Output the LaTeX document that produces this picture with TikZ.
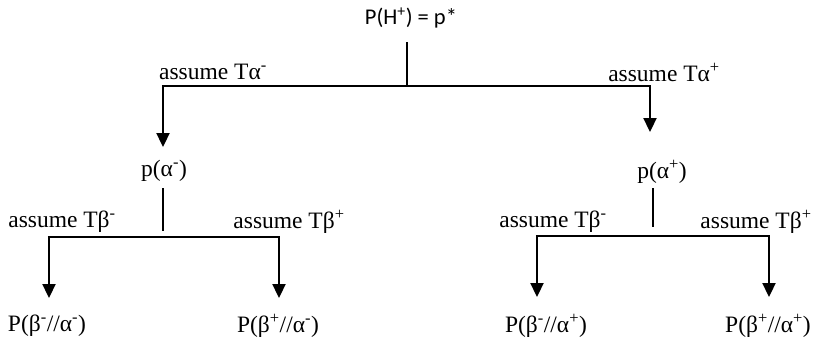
\documentclass[tikz,border=0pt]{standalone}
\usepackage{fontspec}
\setmainfont{Liberation Serif}
\newfontfamily\calfont{Carlito}
\usetikzlibrary{arrows.meta}
\tikzset{
  lbl/.style={inner sep=0pt, font=\fontsize{23.5}{27}\selectfont},
  toplbl/.style={inner sep=0pt, font=\calfont\fontsize{22.5}{26}\selectfont},
  stem/.style={line width=1.3pt},
  bar/.style={line width=1.8pt},
  arr/.style={line width=2.3pt, -{Triangle[width=13pt,length=14pt]}},
}
\begin{document}
\begin{tikzpicture}[x=1pt,y=-1pt]
\useasboundingbox (0,0) rectangle (815,340);
% nodes
\node[toplbl] (top) at (411,18) {P(H\textsuperscript{+}) = p*};
\node[lbl] (taL) at (213,72) {assume Tα\textsuperscript{-}};
\node[lbl] (taR) at (664,72) {assume Tα\textsuperscript{+}};
\node[lbl] (pam) at (164,171) {p(α\textsuperscript{-})};
\node[lbl] (pap) at (662,172) {p(α\textsuperscript{+})};
\node[lbl] (tb1) at (62,222) {assume Tβ\textsuperscript{-}};
\node[lbl] (tb2) at (289,222) {assume Tβ\textsuperscript{+}};
\node[lbl] (tb3) at (553,222) {assume Tβ\textsuperscript{-}};
\node[lbl] (tb4) at (756,222) {assume Tβ\textsuperscript{+}};
\node[lbl] (r1) at (47,326) {P(β\textsuperscript{-}//α\textsuperscript{-})};
\node[lbl] (r2) at (278,326) {P(β\textsuperscript{+}//α\textsuperscript{-})};
\node[lbl] (r3) at (546,326) {P(β\textsuperscript{-}//α\textsuperscript{+})};
\node[lbl] (r4) at (768,326) {P(β\textsuperscript{+}//α\textsuperscript{+})};
% junction coordinates
\coordinate (s0a) at (407,42);
\coordinate (s0b) at (407,86);
\coordinate (h0L) at (163,86);
\coordinate (h0R) at (650,86);
\coordinate (e0L) at (163,147);
\coordinate (e0R) at (650,132);
\coordinate (s1a) at (163,188);
\coordinate (s1b) at (163,231);
\coordinate (h1L) at (49,237);
\coordinate (h1R) at (279,237);
\coordinate (e1L) at (49,298);
\coordinate (e1R) at (279,298);
\coordinate (s2a) at (653,188);
\coordinate (s2b) at (653,227);
\coordinate (h2L) at (537,236);
\coordinate (h2R) at (769,236);
\coordinate (e2L) at (537,297);
\coordinate (e2R) at (769,297);
% connectors
\draw[stem] (s0a) -- (s0b);
\draw[bar] ([xshift=-1.1pt]h0L) -- ([xshift=1.1pt]h0R);
\draw[arr] (h0L) -- (e0L);
\draw[arr] (h0R) -- (e0R);
\draw[stem] (s1a) -- (s1b);
\draw[bar] ([xshift=-1.1pt]h1L) -- ([xshift=1.1pt]h1R);
\draw[arr] (h1L) -- (e1L);
\draw[arr] (h1R) -- (e1R);
\draw[stem] (s2a) -- (s2b);
\draw[bar] ([xshift=-1.1pt]h2L) -- ([xshift=1.1pt]h2R);
\draw[arr] (h2L) -- (e2L);
\draw[arr] (h2R) -- (e2R);
\end{tikzpicture}
\end{document}
